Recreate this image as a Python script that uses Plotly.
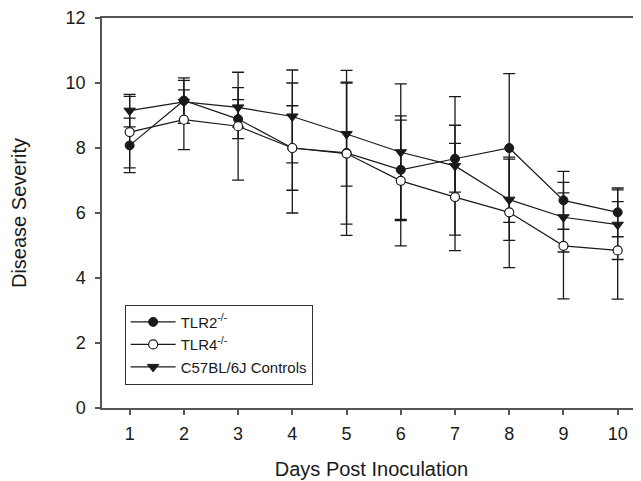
import plotly.graph_objects as go

days = [1, 2, 3, 4, 5, 6, 7, 8, 9, 10]

tlr2_mean = [8.08, 9.46, 8.89, 8.0, 7.85, 7.33, 7.67, 8.0, 6.39, 6.02]
tlr2_err = [0.84, 0.70, 0.60, 1.30, 2.54, 1.53, 1.03, 2.29, 0.89, 0.75]

tlr4_mean = [8.49, 8.87, 8.67, 8.0, 7.83, 6.99, 6.49, 6.02, 4.99, 4.85]
tlr4_err = [1.10, 0.92, 1.66, 2.00, 2.17, 2.00, 1.65, 1.70, 1.63, 1.50]

c57_mean = [9.15, 9.42, 9.25, 8.97, 8.43, 7.87, 7.45, 6.41, 5.87, 5.64]
c57_err = [0.50, 0.66, 0.61, 1.43, 1.60, 2.10, 2.13, 1.25, 1.07, 1.07]

y_ticks = [0, 2, 4, 6, 8, 10, 12]
x_ticks = days

FONT = "Liberation Sans, Arial, sans-serif"
INK = "#1a1a1a"
AX = "#555555"

def err(vals):
    return dict(type="data", array=vals, visible=True, color=INK, thickness=1.3, width=6)

fig = go.Figure()

fig.add_trace(go.Scatter(
    x=days, y=c57_mean, error_y=err(c57_err), mode="lines+markers",
    name="C57BL/6J Controls", legendrank=3,
    line=dict(color=INK, width=1.2),
    marker=dict(symbol="triangle-down", size=10, color=INK, line=dict(color=INK, width=1)),
))
fig.add_trace(go.Scatter(
    x=days, y=tlr2_mean, error_y=err(tlr2_err), mode="lines+markers",
    name="TLR2<sup>-/-</sup>", legendrank=1,
    line=dict(color=INK, width=1.2),
    marker=dict(symbol="circle", size=9, color=INK, line=dict(color=INK, width=1)),
))
fig.add_trace(go.Scatter(
    x=days, y=tlr4_mean, error_y=err(tlr4_err), mode="lines+markers",
    name="TLR4<sup>-/-</sup>", legendrank=2,
    line=dict(color=INK, width=1.2),
    marker=dict(symbol="circle", size=9, color="white", line=dict(color=INK, width=1.2)),
))

# page body has an 8px default margin, so the figure is sized to fit the window
fig.update_layout(
    width=633, height=473,
    margin=dict(l=94, r=0, t=10, b=73),
    paper_bgcolor="white", plot_bgcolor="white",
    font=dict(family=FONT, color=INK, size=17),
    showlegend=True,
    legend=dict(
        x=0.042, y=0.265, xanchor="left", yanchor="top",
        bordercolor="#333333", borderwidth=1, bgcolor="white",
        font=dict(family=FONT, size=15, color=INK),
        tracegroupgap=0, itemwidth=45, entrywidth=150, entrywidthmode="pixels",
    ),
    xaxis=dict(
        range=[0.49, 10.43], tickvals=x_ticks, ticktext=[str(d) for d in x_ticks],
        showgrid=False, zeroline=False, showline=True, linecolor=AX, linewidth=1.5,
        mirror=True, ticks="outside", ticklen=5, tickcolor=AX, tickwidth=1.5,
        ticklabelstandoff=4, automargin=False,
        tickfont=dict(size=18, color=INK),
        title=dict(text="Days Post Inoculation", font=dict(size=20, color=INK), standoff=19),
    ),
    yaxis=dict(
        range=[0, 12], tickvals=y_ticks, ticktext=[str(v) for v in y_ticks],
        showgrid=False, zeroline=False, showline=True, linecolor=AX, linewidth=1.5,
        ticks="outside", ticklen=5, tickcolor=AX, tickwidth=1.5,
        ticklabelstandoff=6, automargin=False,
        tickfont=dict(size=18, color=INK),
        title=dict(text="Disease Severity", font=dict(size=20, color=INK), standoff=36),
    ),
)

fig.write_html("out.html")
